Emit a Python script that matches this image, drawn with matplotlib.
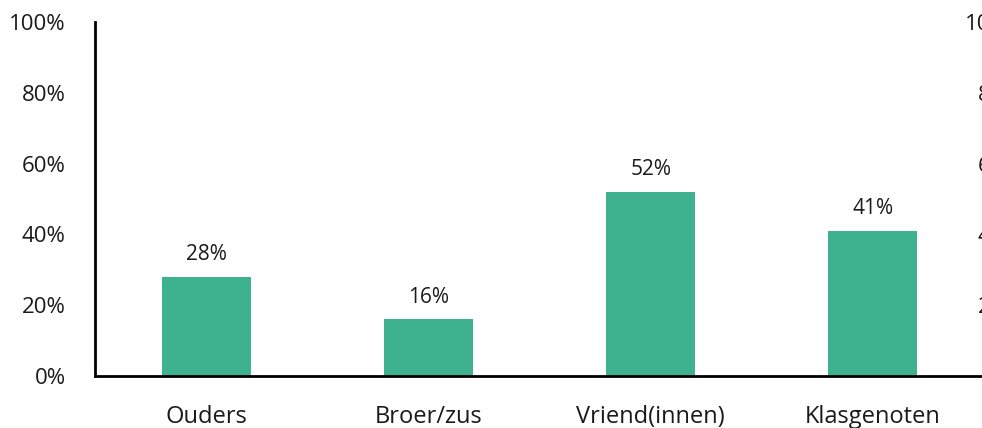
import numpy as np
import matplotlib.pyplot as plt

categories = ["Ouders", "Broer/zus", "Vriend(innen)", "Klasgenoten"]
values = [28, 16, 52, 41]
yticks = [0, 20, 40, 60, 80, 100]

plt.rcParams["font.family"] = ["Open Sans", "DejaVu Sans"]
text_color = "#1a1a1a"
bar_color = "#3EB28F"

fig = plt.figure(figsize=(9.82, 4.28), dpi=100)
ax = fig.add_axes([95 / 982, 52 / 428, 889 / 982, 354 / 428])

x = np.arange(len(categories))
bars = ax.bar(x, values, width=0.4, color=bar_color, zorder=2)
for b, v in zip(bars, values):
    ax.annotate(f"{v}%", (b.get_x() + b.get_width() / 2, v), xytext=(0, 8.5),
                textcoords="offset points", ha="center", va="bottom",
                fontsize=15, color=text_color)

ax.set_xlim(-0.5, 3.5)
ax.set_ylim(0, 100)
ax.set_xticks(x)
ax.set_xticklabels(categories, fontsize=17, color=text_color)
ax.set_yticks(yticks)
ax.set_yticklabels([f"{t}%" for t in yticks], fontsize=16, color=text_color)
ax.tick_params(axis="y", length=0, pad=21)
ax.tick_params(axis="x", length=0, pad=21)

for s in ["top", "right"]:
    ax.spines[s].set_visible(False)
ax.spines["left"].set_linewidth(2)
ax.spines["bottom"].set_linewidth(2)

# secondary axis on the right, mostly cut off by the figure edge
ax2 = ax.twinx()
ax2.set_ylim(0, 100)
ax2.set_yticks(yticks)
ax2.set_yticklabels([f"{t}%" for t in yticks], fontsize=16, color=text_color, ha="right")
ax2.tick_params(axis="y", length=0, pad=27)
for s in ["top", "right", "left", "bottom"]:
    ax2.spines[s].set_visible(False)

fig.savefig("out.png", dpi=100)
